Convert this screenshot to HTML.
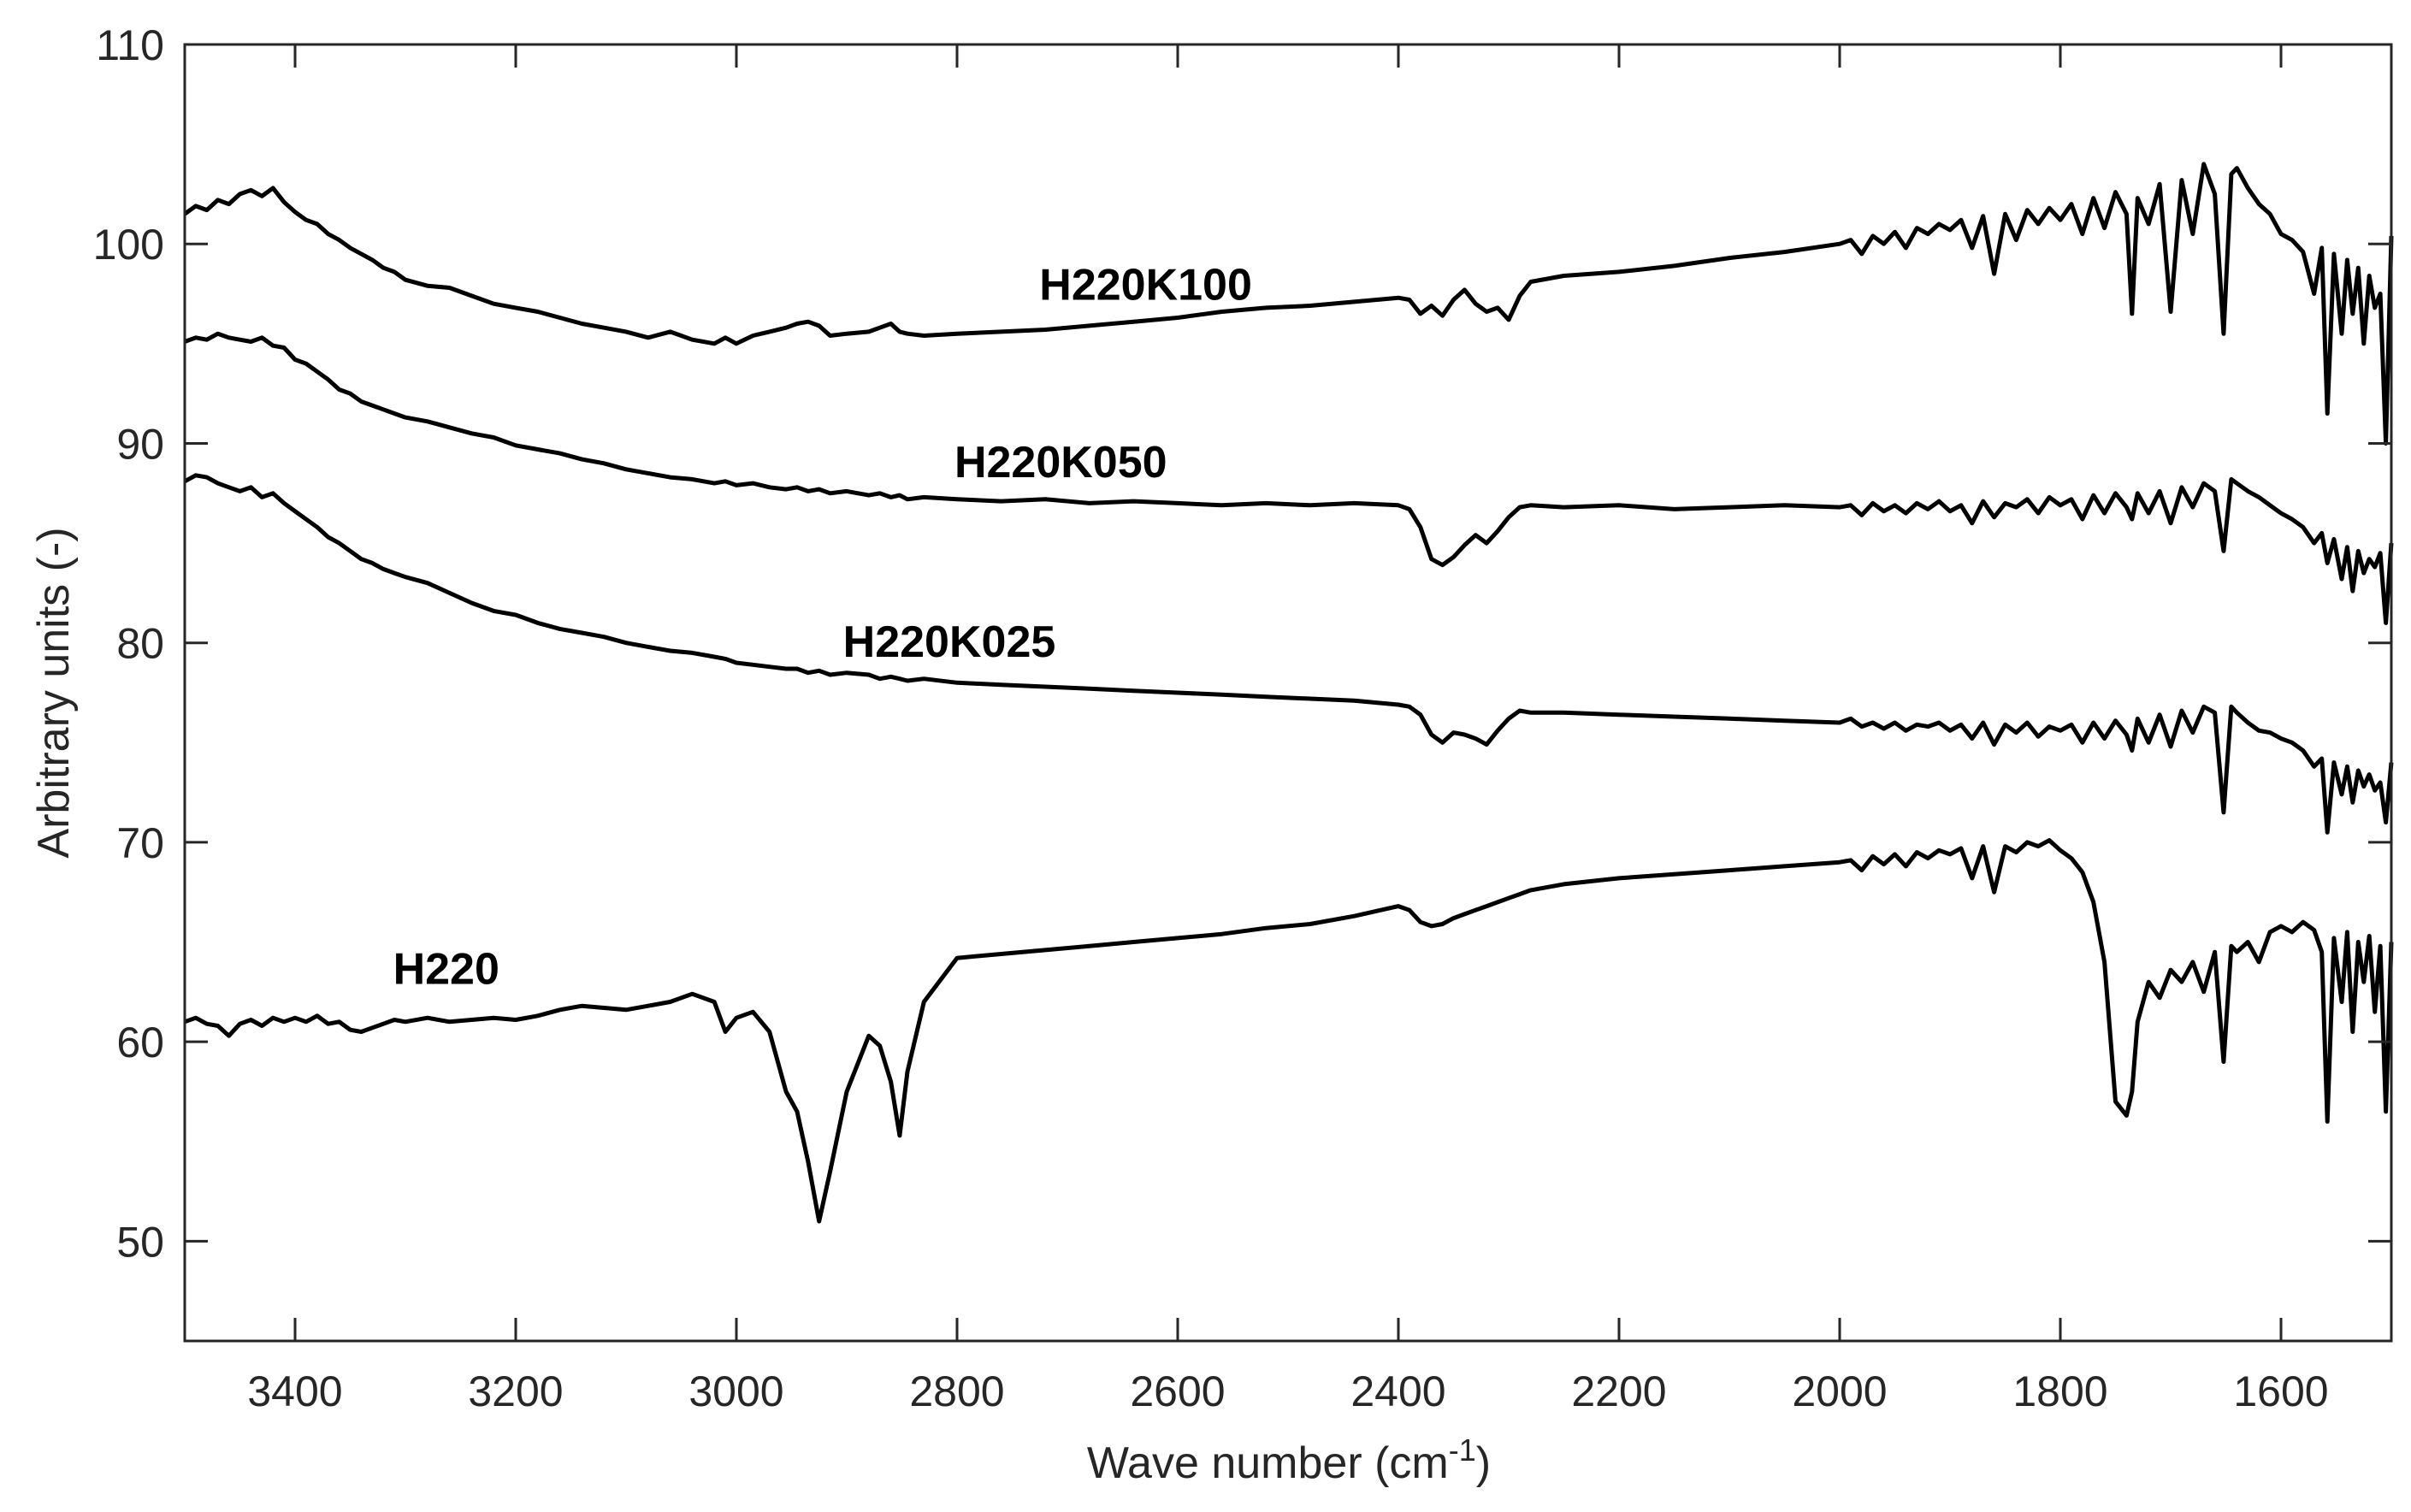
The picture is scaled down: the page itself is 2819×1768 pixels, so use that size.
<!DOCTYPE html>
<html><head><meta charset="utf-8"><style>
html,body{margin:0;padding:0;background:#fff}
svg{display:block}
text{font-family:"Liberation Sans",Arial,sans-serif}
</style></head><body>
<svg id="chart" width="2819" height="1768" viewBox="0 0 2819 1768" xmlns="http://www.w3.org/2000/svg">
<g id="plot"></g>
</svg>
<script>
const wn = [
3500,3490,3480,3470,3460,3450,3440,3430,3420,3410,3400,3390,3380,3370,3360,3350,3340,3330,3320,3310,3300,
3280,3260,3240,3220,3200,3180,3160,3140,3120,3100,3080,3060,3040,3020,
3010,3000,2985,2970,2955,2945,2935,2925,2915,2900,2880,2870,2860,2852,2845,2830,2800,
2760,2720,2680,2640,2600,2560,2520,2480,2440,2400,
2390,2380,2370,2360,2350,2340,2330,2320,2310,2300,2290,2280,
2250,2200,2150,2100,2050,2000,
1990,1980,1970,1960,1950,1940,1930,1920,1910,1900,1890,1880,1870,1860,1850,1840,1830,1820,1810,1800,1790,1780,1770,1760,1750,1740,
1735,1730,1720,1710,1700,1690,1680,1670,1660,1652,1645,1640,1630,1620,1610,1600,1590,1580,1570,1563,1558,1552,1545,1540,1535,1530,1525,1520,1515,1510,1505,1500];
const yK100 = [
101.5,101.9,101.7,102.2,102.0,102.5,102.7,102.4,102.8,102.1,101.6,101.2,101.0,100.5,100.2,99.8,99.5,99.2,98.8,98.6,98.2,
97.9,97.8,97.4,97.0,96.8,96.6,96.3,96.0,95.8,95.6,95.3,95.6,95.2,95.0,
95.3,95.0,95.4,95.6,95.8,96.0,96.1,95.9,95.4,95.5,95.6,95.8,96.0,95.6,95.5,95.4,95.5,
95.6,95.7,95.9,96.1,96.3,96.6,96.8,96.9,97.1,97.3,
97.2,96.5,96.9,96.4,97.2,97.7,97.0,96.6,96.8,96.2,97.4,98.1,
98.4,98.6,98.9,99.3,99.6,100.0,
100.2,99.5,100.4,100.0,100.6,99.8,100.8,100.5,101.0,100.7,101.2,99.8,101.4,98.5,101.5,100.2,101.7,101.0,101.8,101.2,102.0,100.5,102.3,100.8,102.6,101.5,
96.5,102.3,101.0,103.0,96.6,103.2,100.5,104.0,102.5,95.5,103.5,103.8,102.8,102.0,101.5,100.5,100.2,99.6,97.5,99.8,91.5,99.5,95.5,99.2,96.5,98.8,95.0,98.4,96.8,97.5,90.0,100.4];
const yK050 = [
95.1,95.3,95.2,95.5,95.3,95.2,95.1,95.3,94.9,94.8,94.2,94.0,93.6,93.2,92.7,92.5,92.1,91.9,91.7,91.5,91.3,
91.1,90.8,90.5,90.3,89.9,89.7,89.5,89.2,89.0,88.7,88.5,88.3,88.2,88.0,
88.1,87.9,88.0,87.8,87.7,87.8,87.6,87.7,87.5,87.6,87.4,87.5,87.3,87.4,87.2,87.3,87.2,
87.1,87.2,87.0,87.1,87.0,86.9,87.0,86.9,87.0,86.9,
86.7,85.8,84.2,83.9,84.3,84.9,85.4,85.0,85.6,86.3,86.8,86.9,
86.8,86.9,86.7,86.8,86.9,86.8,
86.9,86.4,87.0,86.6,86.9,86.5,87.0,86.7,87.1,86.6,86.9,86.0,87.1,86.3,87.0,86.8,87.2,86.5,87.3,86.9,87.2,86.2,87.4,86.5,87.5,86.8,
86.2,87.5,86.5,87.6,86.0,87.8,86.8,88.0,87.6,84.6,88.2,88.0,87.6,87.3,86.9,86.5,86.2,85.8,85.0,85.5,84.0,85.2,83.2,84.8,82.6,84.6,83.5,84.2,83.8,84.5,81.0,85.0];
const yK025 = [
88.1,88.4,88.3,88.0,87.8,87.6,87.8,87.3,87.5,87.0,86.6,86.2,85.8,85.3,85.0,84.6,84.2,84.0,83.7,83.5,83.3,
83.0,82.5,82.0,81.6,81.4,81.0,80.7,80.5,80.3,80.0,79.8,79.6,79.5,79.3,
79.2,79.0,78.9,78.8,78.7,78.7,78.5,78.6,78.4,78.5,78.4,78.2,78.3,78.2,78.1,78.2,78.0,
77.9,77.8,77.7,77.6,77.5,77.4,77.3,77.2,77.1,76.9,
76.8,76.4,75.4,75.0,75.5,75.4,75.2,74.9,75.6,76.2,76.6,76.5,
76.5,76.4,76.3,76.2,76.1,76.0,
76.2,75.8,76.0,75.7,76.0,75.6,75.9,75.8,76.0,75.6,75.9,75.2,76.0,74.9,75.9,75.5,76.0,75.3,75.8,75.6,75.9,75.0,76.0,75.2,76.1,75.4,
74.6,76.2,75.0,76.4,74.8,76.6,75.5,76.8,76.5,71.5,76.8,76.5,76.0,75.6,75.5,75.2,75.0,74.6,73.8,74.2,70.5,74.0,72.4,73.8,72.0,73.6,72.8,73.4,72.6,73.0,71.0,74.0];
const yH220 = [
61.0,61.2,60.9,60.8,60.3,60.9,61.1,60.8,61.2,61.0,61.2,61.0,61.3,60.9,61.0,60.6,60.5,60.7,60.9,61.1,61.0,
61.2,61.0,61.1,61.2,61.1,61.3,61.6,61.8,61.7,61.6,61.8,62.0,62.4,62.0,
60.5,61.2,61.5,60.5,57.5,56.5,54.0,51.0,53.5,57.5,60.3,59.8,58.0,55.3,58.5,62.0,64.2,
64.4,64.6,64.8,65.0,65.2,65.4,65.7,65.9,66.3,66.8,
66.6,66.0,65.8,65.9,66.2,66.4,66.6,66.8,67.0,67.2,67.4,67.6,
67.9,68.2,68.4,68.6,68.8,69.0,
69.1,68.6,69.3,68.9,69.4,68.8,69.5,69.2,69.6,69.4,69.7,68.2,69.8,67.5,69.8,69.5,70.0,69.8,70.1,69.6,69.2,68.5,67.0,64.0,57.0,56.3,
57.5,61.0,63.0,62.2,63.6,63.0,64.0,62.5,64.5,59.0,64.8,64.5,65.0,64.0,65.5,65.8,65.5,66.0,65.6,64.5,56.0,65.2,62.0,65.5,60.5,65.0,63.0,65.3,61.5,64.8,56.5,65.0];
const xTicks = [3400,3200,3000,2800,2600,2400,2200,2000,1800,1600];
const yTicks = [50,60,70,80,90,100,110];
const seriesNames = ["H220K100","H220K050","H220K025","H220"];
const labelPos = [[2629,97.2],[2706,88.3],[2807,79.3],[3263,62.9]];

const L=216,R=2796,T=52,B=1568;
const xmin=3500,xmax=1500,ymin=45,ymax=110;
const X=v=>L+(xmin-v)/(xmin-xmax)*(R-L);
const Y=v=>B-(v-ymin)/(ymax-ymin)*(B-T);
const NS="http://www.w3.org/2000/svg";
const g=document.getElementById('plot');
function mk(tag,attrs,parent){const e=document.createElementNS(NS,tag);for(const k in attrs)e.setAttribute(k,attrs[k]);(parent||g).appendChild(e);return e;}

const series=[yK100,yK050,yK025,yH220];
series.forEach((ys,i)=>{
  const d=ys.map((v,j)=>(j?'L':'M')+X(wn[j]).toFixed(1)+','+Y(v).toFixed(1)).join('');
  const p=mk('path',{d:d,fill:'none',stroke:'#000','stroke-width':5,'stroke-linejoin':'round'});
  
  
  const t=mk('text',{x:X(labelPos[i][0]),y:Y(labelPos[i][1]),'font-size':52,'font-weight':'bold','text-anchor':'middle',fill:'#000'});
  t.textContent=seriesNames[i];
  
  
});

const frame=mk('rect',{x:L,y:T,width:R-L,height:B-T,fill:'none',stroke:'#262626','stroke-width':3});



xTicks.forEach(v=>{
  const x=X(v);
  const t1=mk('line',{x1:x,x2:x,y1:B,y2:B-27,stroke:'#262626','stroke-width':3});
  
  
  const t2=mk('line',{x1:x,x2:x,y1:T,y2:T+27,stroke:'#262626','stroke-width':3});
  
  
  const tl=mk('text',{x:x,y:B+76,'font-size':50,'text-anchor':'middle',fill:'#262626'});
  tl.textContent=v;
  
  
});
yTicks.forEach(v=>{
  const y=Y(v);
  const t1=mk('line',{x1:L,x2:L+27,y1:y,y2:y,stroke:'#262626','stroke-width':3});
  
  
  const t2=mk('line',{x1:R,x2:R-27,y1:y,y2:y,stroke:'#262626','stroke-width':3});
  
  
  const tl=mk('text',{x:192,y:y+18,'font-size':50,'text-anchor':'end',fill:'#262626'});
  tl.textContent=v;
  
  
});
const xt=mk('text',{x:1507,y:1728,'font-size':52,'text-anchor':'middle',fill:'#262626'});
xt.innerHTML='Wave number (cm<tspan dy="-20" font-size="36">-1</tspan><tspan dy="20">)</tspan>';


const yt=mk('text',{x:0,y:0,'font-size':52,'text-anchor':'middle',fill:'#262626',transform:'translate(80,810) rotate(-90)'});
yt.textContent='Arbitrary units (-)';


</script>
</body></html>
